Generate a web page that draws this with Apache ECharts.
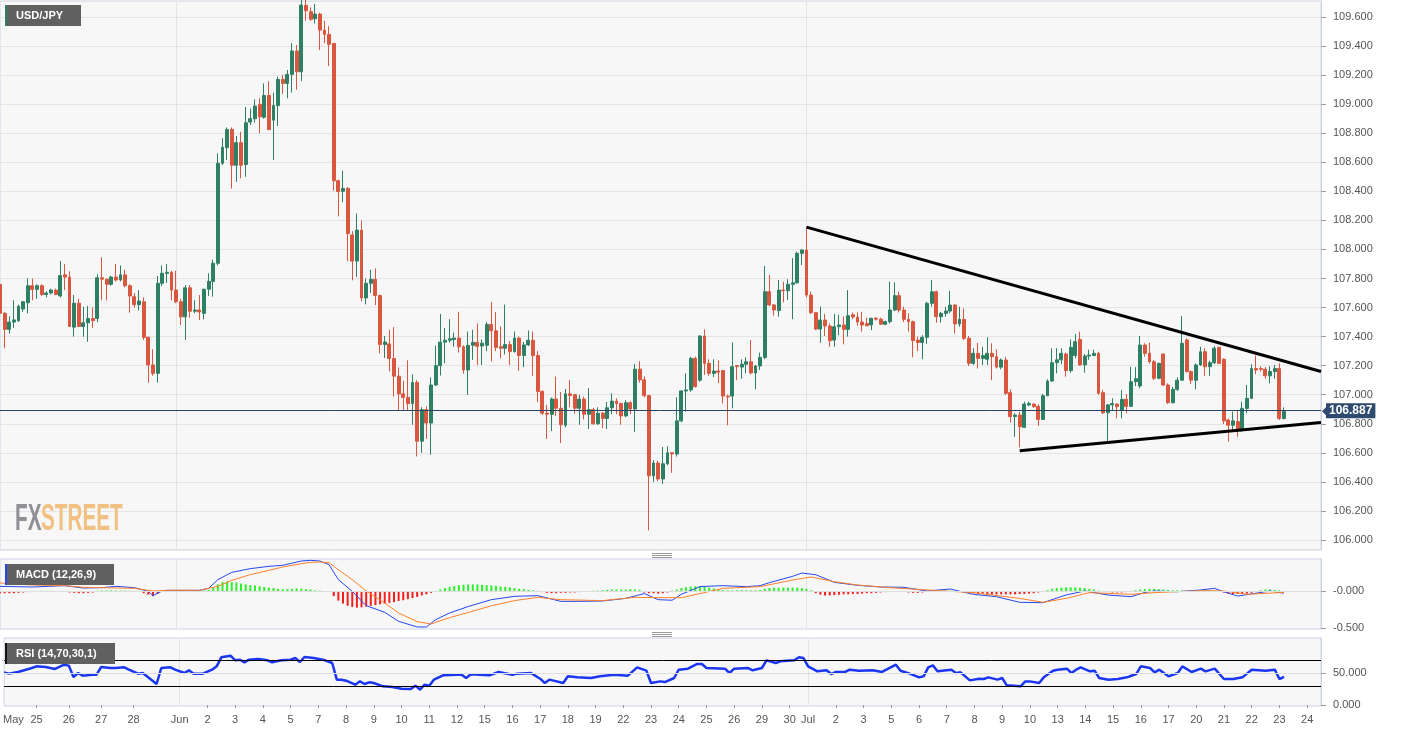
<!DOCTYPE html>
<html><head><meta charset="utf-8">
<script src="https://cdn.jsdelivr.net/npm/echarts@6/dist/echarts.min.js"></script>
<style>html,body{margin:0;padding:0;background:#fff}#c{width:1413px;height:732px}</style>
</head><body><div id="c"></div>
<script>
// 4-hour candles, [open, close, low, high]
const candles = [
[107.76,107.56,107.50,107.80],[107.56,107.45,107.32,107.57],[107.45,107.50,107.42,107.54],[107.50,107.515,107.46,107.65],
[107.51,107.61,107.50,107.62],[107.59,107.64,107.57,107.645],[107.633,107.75,107.56,107.80],[107.75,107.725,107.65,107.80],
[107.725,107.75,107.66,107.76],[107.75,107.69,107.68,107.76],[107.69,107.70,107.67,107.71],[107.70,107.72,107.69,107.73],
[107.72,107.69,107.685,107.73],[107.68,107.82,107.67,107.92],[107.825,107.81,107.72,107.90],[107.81,107.47,107.465,107.85],
[107.465,107.63,107.40,107.686],[107.63,107.47,107.465,107.66],[107.47,107.495,107.40,107.606],[107.495,107.525,107.365,107.61],
[107.525,107.51,107.46,107.60],[107.525,107.805,107.50,107.83],[107.805,107.795,107.65,107.946],[107.795,107.76,107.65,107.80],
[107.76,107.81,107.75,107.82],[107.81,107.79,107.78,107.90],[107.79,107.825,107.78,107.89],[107.825,107.75,107.74,107.86],
[107.75,107.68,107.565,107.76],[107.675,107.62,107.60,107.70],[107.62,107.645,107.58,107.72],[107.64,107.395,107.377,107.67],
[107.395,107.205,107.083,107.40],[107.205,107.147,107.13,107.313],[107.147,107.767,107.083,107.817],[107.767,107.836,107.748,107.89],
[107.835,107.843,107.77,107.90],[107.843,107.72,107.65,107.853],[107.72,107.64,107.63,107.853],[107.64,107.536,107.48,107.66],
[107.536,107.736,107.377,107.755],[107.736,107.575,107.53,107.755],[107.575,107.583,107.56,107.65],[107.583,107.57,107.514,107.686],
[107.56,107.726,107.52,107.73],[107.726,107.78,107.68,107.836],[107.78,107.905,107.675,107.93],[107.905,108.593,107.89,108.662],
[108.593,108.703,108.58,108.765],[108.70,108.826,108.616,108.84],[108.826,108.58,108.42,108.84],[108.58,108.735,108.466,108.78],
[108.735,108.58,108.49,108.81],[108.584,108.872,108.50,108.98],[108.877,108.90,108.856,108.97],[108.90,108.987,108.873,109.033],
[108.999,108.913,108.80,109.04],[108.91,109.06,108.90,109.143],[109.06,108.826,108.82,109.157],[108.89,108.99,108.616,109.08],
[108.99,109.17,108.85,109.19],[109.17,109.143,109.07,109.20],[109.143,109.205,109.04,109.235],[109.205,109.366,109.08,109.42],
[109.366,109.223,109.10,109.407],[109.223,109.682,109.16,109.85],[109.68,109.643,109.575,109.76],[109.636,109.584,109.574,109.666],
[109.588,109.62,109.556,109.69],[109.62,109.51,109.373,109.63],[109.51,109.48,109.42,109.574],[109.48,109.412,109.262,109.538],
[109.418,108.473,108.405,109.42],[108.473,108.398,108.228,108.48],[108.40,108.42,108.325,108.543],[108.42,108.109,107.92,108.43],
[108.10,107.92,107.787,108.126],[107.92,108.133,107.81,108.247],[108.133,107.666,107.642,108.20],[107.666,107.767,107.622,107.80],
[107.767,107.794,107.70,107.86],[107.794,107.683,107.617,107.87],[107.683,107.346,107.285,107.69],[107.346,107.363,107.253,107.404],
[107.35,107.249,107.161,107.447],[107.249,107.128,106.987,107.465],[107.128,107.006,106.895,107.188],[107.006,106.982,106.895,107.096],
[106.982,106.94,106.895,107.237],[106.94,107.084,106.793,107.14],[107.084,106.68,106.575,107.10],[106.68,106.897,106.60,106.914],
[106.897,106.805,106.696,106.92],[106.805,107.067,106.587,107.12],[107.067,107.20,107.06,107.338],[107.20,107.362,107.132,107.556],
[107.362,107.375,107.217,107.46],[107.375,107.385,107.36,107.52],[107.38,107.39,107.33,107.428],[107.39,107.33,107.29,107.57],
[107.33,107.17,107.145,107.34],[107.17,107.34,106.999,107.435],[107.34,107.36,107.24,107.447],[107.36,107.333,107.205,107.49],
[107.335,107.355,107.205,107.38],[107.34,107.484,107.30,107.50],[107.484,107.44,107.23,107.64],[107.44,107.326,107.30,107.57],
[107.33,107.32,107.25,107.47],[107.32,107.345,107.277,107.62],[107.345,107.297,107.205,107.37],[107.297,107.39,107.29,107.435],
[107.39,107.27,107.164,107.40],[107.27,107.343,107.19,107.363],[107.343,107.375,107.335,107.442],[107.375,107.27,107.13,107.435],
[107.27,107.023,106.95,107.30],[107.023,106.873,106.86,107.03],[106.873,106.865,106.696,106.93],[106.865,106.97,106.75,106.982],
[106.97,106.907,106.854,107.125],[106.907,106.793,106.667,107.018],[106.79,107.006,106.775,107.04],[107.006,106.995,106.914,107.10],
[107.0,106.907,106.87,107.005],[106.907,106.97,106.793,107.0],[106.97,106.866,106.83,106.987],[106.866,106.897,106.764,107.045],
[106.897,106.80,106.793,106.91],[106.80,106.873,106.793,106.914],[106.873,106.837,106.769,106.88],[106.837,106.91,106.764,106.95],
[106.91,106.956,106.866,107.01],[106.956,106.94,106.866,106.975],[106.94,106.854,106.793,106.945],[106.854,106.945,106.845,106.963],
[106.945,106.902,106.866,106.955],[106.902,107.176,106.744,107.212],[107.176,107.103,107.084,107.23],[107.103,106.994,106.982,107.125],
[106.994,106.442,106.066,107.0],[106.442,106.53,106.40,106.55],[106.53,106.42,106.405,106.546],[106.42,106.525,106.385,106.64],
[106.525,106.60,106.514,106.645],[106.60,106.592,106.463,106.605],[106.592,106.82,106.574,106.982],[106.82,107.026,106.81,107.03],
[107.026,107.033,106.883,107.147],[107.033,107.25,107.02,107.262],[107.25,107.055,107.05,107.262],[107.10,107.404,107.09,107.41],
[107.404,107.216,107.136,107.45],[107.216,107.147,107.13,107.244],[107.147,107.163,107.12,107.244],[107.163,107.155,107.08,107.235],
[107.166,106.991,106.94,107.17],[106.99,106.985,106.79,107.0],[106.991,107.193,106.906,107.36],[107.20,107.193,107.10,107.205],
[107.19,107.21,107.11,107.244],[107.21,107.227,107.147,107.257],[107.227,107.15,107.14,107.377],[107.15,107.198,107.037,107.205],
[107.198,107.257,107.17,107.29],[107.257,107.709,107.244,107.886],[107.709,107.618,107.61,107.824],[107.618,107.583,107.544,107.625],
[107.58,107.72,107.537,107.79],[107.72,107.716,107.636,107.778],[107.716,107.76,107.652,107.795],[107.76,107.77,107.52,107.94],
[107.77,107.973,107.765,107.985],[107.973,107.996,107.893,108.0],[107.996,107.686,107.67,108.152],[107.686,107.565,107.555,107.71],
[107.565,107.452,107.445,107.57],[107.452,107.514,107.358,107.606],[107.514,107.473,107.404,107.556],[107.473,107.372,107.33,107.49],
[107.376,107.468,107.33,107.556],[107.468,107.48,107.41,107.55],[107.48,107.45,107.347,107.54],[107.45,107.544,107.40,107.72],
[107.55,107.535,107.52,107.567],[107.535,107.50,107.475,107.567],[107.50,107.48,107.434,107.57],[107.49,107.475,107.47,107.53],
[107.48,107.526,107.445,107.53],[107.526,107.52,107.51,107.535],[107.52,107.485,107.48,107.53],[107.485,107.503,107.478,107.51],
[107.503,107.583,107.49,107.778],[107.583,107.682,107.575,107.773],[107.682,107.583,107.567,107.71],[107.583,107.519,107.50,107.606],
[107.519,107.503,107.434,107.56],[107.503,107.372,107.257,107.51],[107.376,107.36,107.30,107.40],[107.36,107.395,107.244,107.41],
[107.395,107.629,107.35,107.64],[107.629,107.709,107.606,107.79],[107.709,107.537,107.496,107.716],[107.537,107.56,107.496,107.57],
[107.56,107.576,107.537,107.606],[107.576,107.617,107.56,107.716],[107.617,107.487,107.423,107.625],[107.487,107.519,107.468,107.606],
[107.519,107.388,107.377,107.594],[107.388,107.216,107.198,107.404],[107.216,107.285,107.205,107.32],[107.285,107.25,107.18,107.356],
[107.25,107.27,107.205,107.33],[107.244,107.285,107.205,107.395],[107.285,107.262,107.10,107.354],[107.262,107.19,107.18,107.312],
[107.19,107.239,107.175,107.25],[107.239,107.01,106.998,107.26],[107.014,106.849,106.808,107.037],[106.849,106.86,106.711,106.872],
[106.86,106.78,106.638,106.883],[106.776,106.936,106.77,106.952],[106.93,106.94,106.92,106.952],[106.936,106.918,106.91,106.94],
[106.92,106.83,106.785,106.936],[106.83,106.993,106.826,107.005],[106.993,107.094,106.99,107.106],[107.094,107.22,107.09,107.32],
[107.22,107.24,107.147,107.32],[107.24,107.285,107.21,107.32],[107.28,107.166,107.124,107.29],[107.166,107.326,107.152,107.38],
[107.27,107.365,107.25,107.418],[107.38,107.205,107.20,107.434],[107.205,107.266,107.152,107.28],[107.266,107.273,107.24,107.31],
[107.27,107.285,107.265,107.31],[107.285,107.01,107.0,107.296],[107.014,106.876,106.867,107.032],[106.876,106.93,106.67,106.936],
[106.93,106.94,106.895,106.975],[106.936,106.918,106.837,106.94],[106.895,106.968,106.837,107.032],[106.968,106.92,106.872,107.005],
[106.92,107.09,106.915,107.193],[107.09,107.11,107.06,107.19],[107.06,107.342,107.044,107.404],[107.342,107.285,107.262,107.354],
[107.285,107.227,107.215,107.358],[107.227,107.113,107.10,107.24],[107.113,107.216,107.107,107.22],[107.28,107.067,107.06,107.285],
[107.067,106.945,106.936,107.078],[106.945,107.037,106.94,107.055],[107.037,107.10,107.026,107.12],[107.10,107.354,107.10,107.542],
[107.377,107.159,107.152,107.388],[107.159,107.10,107.074,107.166],[107.10,107.205,107.037,107.216],[107.205,107.296,107.198,107.33],
[107.296,107.193,107.13,107.32],[107.193,107.22,107.13,107.235],[107.22,107.32,107.21,107.335],[107.326,107.216,107.21,107.33],
[107.244,106.82,106.798,107.25],[106.826,106.79,106.677,106.837],[106.79,106.82,106.757,106.883],[106.815,106.757,106.71,106.895],
[106.757,106.906,106.745,106.952],[106.906,106.975,106.872,107.067],[106.975,107.18,106.97,107.21],[107.18,107.17,107.142,107.27],
[107.18,107.175,107.16,107.196],[107.175,107.13,107.11,107.19],[107.13,107.16,107.078,107.196],[107.16,107.18,107.11,107.205],
[107.18,106.837,106.826,107.216],[106.837,106.887,106.83,106.913]
];

// MACD (12,26,9) main line, read at [candle index, value]
const macdLine = [[0,0.063],[7,0.054],[14,0.072],[18,0.04],[22,0.045],[25,0.063],[29,0.045],[32,-0.005],[33,-0.063],[35,0.0],[36,0.009],[43,0.009],[45,0.036],[47,0.153],[50,0.252],[54,0.302],[58,0.333],[61,0.347],[65,0.405],[67,0.414],[69,0.405],[71,0.356],[73,0.153],[76,-0.005],[79,-0.198],[83,-0.288],[86,-0.41],[90,-0.486],[92,-0.486],[94,-0.387],[97,-0.297],[101,-0.21],[106,-0.117],[111,-0.072],[116,-0.063],[121,-0.14],[125,-0.14],[130,-0.135],[135,-0.1],[139,-0.035],[142,-0.117],[145,-0.125],[147,-0.045],[151,0.06],[156,0.072],[161,0.059],[164,0.072],[166,0.113],[171,0.198],[173,0.243],[176,0.22],[180,0.117],[185,0.077],[190,0.054],[195,0.05],[200,0.0],[205,0.027],[210,-0.045],[215,-0.077],[220,-0.153],[225,-0.158],[230,-0.054],[234,0.0],[239,-0.054],[244,-0.077],[247,-0.02],[249,0.0],[254,-0.01],[259,0.014],[262,0.036],[264,-0.01],[267,-0.068],[270,-0.04],[274,0.0],[277,-0.03]];
// MACD signal line
const signalLine = [[0,0.108],[7,0.081],[14,0.072],[18,0.05],[22,0.045],[29,0.036],[33,0.0],[36,0.009],[43,0.009],[47,0.063],[50,0.144],[54,0.221],[58,0.279],[61,0.324],[65,0.369],[67,0.387],[69,0.392],[71,0.383],[73,0.288],[76,0.153],[79,0.0],[83,-0.162],[86,-0.297],[90,-0.414],[93,-0.446],[94,-0.423],[97,-0.36],[101,-0.29],[106,-0.2],[111,-0.13],[116,-0.086],[121,-0.117],[130,-0.13],[137,-0.086],[143,-0.09],[147,-0.09],[151,-0.035],[156,0.036],[164,0.059],[171,0.148],[175,0.19],[180,0.126],[185,0.081],[192,0.045],[200,0.014],[210,-0.022],[220,-0.1],[225,-0.153],[230,-0.1],[235,-0.022],[244,-0.045],[249,-0.022],[259,0.005],[264,0.0],[269,-0.045],[277,-0.018]];
// MACD histogram, one bar per candle
const histogram = [
-0.03,-0.03,-0.03,-0.03,-0.025,-0.02,-0.015,
-0.005,0,0.003,0.003,0.003,-0.003,-0.005,-0.01,
-0.02,-0.025,-0.03,-0.03,-0.025,-0.02,
0.005,0.008,0.008,0.01,0.008,0.005,0.005,0.003,0.002,0,
-0.03,-0.05,-0.07,-0.04,
-0.01,0.005,0.008,0.01,0.008,0.005,0.003,0.002,0.003,0.008,
0.015,0.04,0.09,0.12,0.13,0.12,0.115,0.1,0.09,0.08,0.075,0.065,0.055,0.045,0.04,0.03,0.025,0.025,0.03,0.035,0.03,0.025,0.02,0.01,0.005,
0,-0.01,
-0.07,-0.13,-0.17,-0.2,-0.215,-0.225,-0.22,-0.21,-0.2,-0.19,-0.18,-0.17,-0.16,-0.15,-0.135,-0.125,-0.11,-0.095,-0.08,-0.06,-0.045,-0.025,0,
0.02,0.04,0.055,0.07,0.08,0.085,
0.09,0.09,0.09,0.085,0.08,0.075,
0.07,0.06,0.055,0.05,0.04,0.03,0.025,0.015,0.01,
0.003,
-0.015,-0.025,-0.03,-0.03,-0.025,-0.025,-0.02,-0.02,-0.015,
-0.005,0,0.003,0.005,
0.01,0.015,0.02,0.02,0.02,0.02,0.025,0.02,0.015,
-0.02,-0.03,-0.03,-0.035,-0.03,-0.02,
0.005,0.02,0.04,0.05,0.06,0.065,
0.06,0.055,0.045,0.035,
0.02,0.015,0.01,0.01,0.01,0.01,0.01,0.008,0.01,0.015,
0.03,0.04,0.045,0.045,0.045,0.045,0.045,0.045,0.04,0.03,
0.01,
-0.03,-0.05,-0.06,-0.06,-0.055,-0.05,-0.045,-0.045,-0.04,-0.04,-0.035,-0.03,-0.03,-0.025,-0.02,-0.015,-0.01,
-0.005,0,-0.01,-0.02,-0.025,-0.025,-0.02,
-0.01,-0.005,0,0.003,0.005,0.003,0,-0.005,
-0.015,-0.025,-0.03,-0.035,-0.04,-0.04,-0.045,-0.045,-0.045,-0.045,-0.045,-0.045,-0.04,-0.04,-0.035,-0.03,-0.02,-0.01,
0.01,0.03,0.04,0.045,0.05,0.05,0.05,0.045,0.04,0.03,0.02,
0.005,-0.01,-0.015,-0.02,-0.02,-0.02,-0.015,-0.01,
0.01,0.02,0.025,0.03,0.03,0.025,0.02,
0.015,0.01,0.01,0.01,0.005,0.005,0.005,0.005,0.01,0.01,0.005,0,
-0.02,-0.035,-0.04,-0.04,-0.04,-0.035,-0.025,
-0.005,0.01,0.02,0.02,0.015,0.01,-0.005
];
// RSI (14) read at [candle index, value]
const rsiLine = [[0,51],[1,49],[3,51.6],[6,57.8],[7,60.4],[9,59.4],[10,57.8],[11,56.3],[13,63],[14,61.5],[15,43.8],[16,50],[17,45.8],[19,47.4],[20,47.4],[21,59.4],[23,57.8],[24,57.8],[26,58.9],[27,55.2],[29,49],[30,50],[33,32.8],[34,57.8],[36,58.9],[37,55.2],[39,50],[40,54.2],[41,49],[43,49],[45,55.2],[46,60.4],[47,74.5],[49,77.1],[50,69.8],[51,70.8],[52,66.7],[53,70.8],[55,71.9],[57,69.8],[58,66.7],[60,69.8],[62,70.8],[63,73.4],[64,67.2],[65,75],[67,73.4],[69,70.8],[71,65.6],[72,39.6],[73,39.6],[74,38],[76,31.8],[77,37],[78,32.8],[79,35.4],[80,34.4],[82,29.2],[84,28.1],[86,25.5],[88,25],[89,30.2],[90,24],[91,31.8],[92,30.2],[93,39.6],[95,46.4],[98,47.4],[99,47.4],[100,42.2],[101,48],[105,46.4],[107,51.6],[110,47.4],[111,49],[114,50],[116,41.1],[117,34.4],[118,39.6],[121,34.4],[122,44.8],[124,43.2],[127,42.2],[129,44.8],[132,47.4],[135,45.8],[137,58.8],[139,53.6],[140,34.4],[142,36.9],[143,35.9],[145,42.2],[146,55.2],[148,56.8],[150,64.1],[151,64.1],[152,57.8],[156,56.8],[157,50],[158,56.8],[161,57.8],[162,54.2],[164,57.8],[165,69.8],[167,65.6],[168,68.2],[171,69.8],[172,74.5],[173,73.4],[174,60.4],[176,52.6],[178,54.2],[179,48.4],[180,51.6],[182,51.6],[183,55.2],[185,53.6],[188,54.2],[190,51.6],[193,63],[194,53.6],[196,49],[198,43.2],[199,44.8],[200,58.8],[201,61.9],[202,52.6],[205,55.2],[206,50],[207,51],[209,38.5],[211,41.1],[212,40.6],[213,43.2],[215,39.6],[216,42.2],[217,30.7],[220,29.2],[221,36.9],[222,36.9],[224,34.4],[225,43.2],[227,53.6],[228,55.2],[230,56.8],[231,50],[232,55.2],[233,58.8],[235,52.6],[236,53.6],[237,42.2],[239,39.6],[241,40.6],[243,43.2],[245,48.4],[246,60.4],[248,57.8],[249,51],[250,55.2],[252,44.8],[254,50],[255,60.4],[257,51.6],[259,56.8],[260,52.6],[262,56.8],[264,40.6],[266,40.6],[268,43.2],[270,55.2],[273,53.6],[275,55.2],[276,40.6],[277,43.8]];

// x-axis tick labels: candle index and text
const tickIdx  = [2,7,14,21,28,38,44,50,56,62,68,74,80,86,92,98,104,110,116,122,128,134,140,146,152,158,164,170,174,180,186,192,198,204,210,216,222,228,234,240,246,252,258,264,270,276,282];
const tickText = ['May','25','26','27','28','Jun','2','3','4','5','7','8','9','10','11','12','15','16','17','18','19','22','23','24','25','26','29','30','Jul','2','3','5','6','7','8','9','10','13','14','15','16','17','20','21','22','23','24'];
const monthIdx = [38, 174];
const lastPrice = 106.887;
// triangle trendlines: [[startIndex, startValue], [endIndex, endValue]]
const trendlines = [[[174,108.154],[285,107.16]], [[220,106.615],[285,106.809]]];
const rsiLevels = [70, 30];
const macdTicks = [-0.5, 0];
const rsiTicks = [0, 50];

const N_CAT = 286;
const categories = Array.from({length: N_CAT}, (_, i) => String(i));
const labelMap = new Map(tickIdx.map((k, i) => [k, tickText[i]]));
const dayTickSet = new Set(tickIdx.filter((k, i) => !['May','Jun','Jul'].includes(tickText[i])));

const FONT = '"Liberation Sans", Arial, sans-serif';
const GRIDLINE = '#e4e4e4';
const BORDER = '#ccd3e6';
const LABEL = '#555';
const PRICE_BG = '#2f4a6f';

function xAx(g, show) {
  return {
    type: 'category', gridIndex: g, data: categories, boundaryGap: false,
    axisLine: {show: false},
    axisTick: {show: show, length: 3, interval: (i) => dayTickSet.has(i), lineStyle: {color: '#999'}},
    axisLabel: {show: show, interval: (i) => labelMap.has(i), formatter: (v, i) => labelMap.get(Number(v)) || '',
      color: LABEL, fontSize: 11, fontFamily: FONT, margin: 8},
    splitLine: {show: true, interval: (i) => monthIdx.includes(i), lineStyle: {color: GRIDLINE}}
  };
}
function yBase(g) {
  return {
    type: 'value', gridIndex: g, position: 'right',
    axisLine: {show: true, lineStyle: {color: BORDER}},
    axisTick: {show: true, length: 5, lineStyle: {color: '#999'}},
    axisLabel: {showMinLabel: false, showMaxLabel: false, color: LABEL, fontSize: 11, fontFamily: FONT, margin: 12},
  };
}

const yMain = yBase(0);
Object.assign(yMain, {min: 105.9312, max: 109.7101, splitNumber: 19, minInterval: 0.2, maxInterval: 0.2,
  splitLine: {show: true, lineStyle: {color: GRIDLINE}}});
yMain.axisLabel.formatter = (v) => v.toFixed(3);

const yMacd = yBase(1);
Object.assign(yMacd, {min: -0.5135, max: 0.4324, splitNumber: 2, minInterval: 0.5, maxInterval: 0.5,
  splitLine: {show: false}});
yMacd.axisLabel.formatter = (v) => (v <= 0 ? '-' : '') + Math.abs(v).toFixed(3);
yMacd.axisLabel.customValues = macdTicks;
yMacd.axisLabel.showMinLabel = true;
yMacd.axisLabel.showMaxLabel = true;
yMacd.axisTick.customValues = macdTicks;

const yRsi = yBase(2);
Object.assign(yRsi, {min: -1.5625, max: 104.69, splitNumber: 2, minInterval: 50, maxInterval: 50,
  splitLine: {show: false}});
yRsi.axisLabel.formatter = (v) => (Math.abs(v - 100) < 1e-6 ? '' : v.toFixed(3));
yRsi.axisLabel.customValues = rsiTicks;
yRsi.axisLabel.showMinLabel = true;
yRsi.axisLabel.showMaxLabel = true;
yRsi.axisTick.customValues = rsiTicks;

function box(x, y, w, h, accent, text) {
  return {type: 'group', z: 50, children: [
    {type: 'rect', z: 50, shape: {x: x, y: y, width: w, height: h}, style: {fill: '#606060'}},
    {type: 'rect', z: 51, shape: {x: x, y: y, width: 2, height: h}, style: {fill: accent}},
    {type: 'text', z: 52, x: x + 11, y: y + h / 2, style: {text: text, fill: '#fff', font: 'bold 11px ' + FONT, verticalAlign: 'middle'}}
  ]};
}
function handle(y) {
  return {type: 'group', z: 50, children: [0, 2, 4].map(d => ({type: 'rect', z: 50, shape: {x: 652, y: y + d, width: 20, height: 1}, style: {fill: '#9a9a9a'}}))};
}

const gridCommon = {show: true, backgroundColor: '#f7f7f7', borderColor: BORDER, borderWidth: 1, containLabel: false};

const option = {
  animation: false,
  backgroundColor: '#ffffff',
  grid: [
    Object.assign({left: 0, top: 1, width: 1321, height: 549}, gridCommon),
    Object.assign({left: 0, top: 559, width: 1321, height: 70}, gridCommon),
    Object.assign({left: 0, top: 638, width: 1321, height: 68}, gridCommon)
  ],
  xAxis: [xAx(0, false), xAx(1, false), xAx(2, true)],
  yAxis: [yMain, yMacd, yRsi],
  graphic: [
    {type: 'group', z: 1, children: [
      {type: 'text', z: 1, x: 15, y: 519.5, scaleX: 0.56, style: {text: 'FX', fill: '#8f9096', font: 'bold 37px ' + FONT, verticalAlign: 'middle'}},
      {type: 'text', z: 1, x: 41, y: 519.5, scaleX: 0.56, style: {text: 'STREET', fill: '#f1c083', font: 'bold 37px ' + FONT, verticalAlign: 'middle'}}
    ]},
    box(5, 5, 76, 21, '#2e8065', 'USD/JPY'),
    box(5, 564, 109, 21, '#2448ee', 'MACD (12,26,9)'),
    box(5, 643, 110, 21, '#111111', 'RSI (14,70,30,1)'),
    handle(553), handle(632)
  ],
  series: [
    {
      type: 'candlestick', xAxisIndex: 0, yAxisIndex: 0, data: candles, barWidth: 3.4, clip: true,
      itemStyle: {color: '#2e8065', color0: '#d9573f', borderColor: '#2e8065', borderColor0: '#d9573f', borderWidth: 1},
      markLine: {
        silent: true, symbol: ['none', 'none'], animation: false,
        data: [
          {yAxis: lastPrice, lineStyle: {color: '#2b4468', width: 1, type: 'solid'},
            label: {show: true, position: 'end', formatter: lastPrice.toFixed(3), color: '#fff', fontWeight: 'bold', fontSize: 12,
              fontFamily: FONT, backgroundColor: PRICE_BG, padding: [2, 3, 1, 3], distance: 5}},
          ...trendlines.map(t => [
            {coord: t[0], lineStyle: {color: '#000', width: 3, type: 'solid'}, label: {show: false}},
            {coord: t[1]}
          ])
        ]
      }
    },
    {
      type: 'bar', xAxisIndex: 1, yAxisIndex: 1, data: histogram, barWidth: 2,
      itemStyle: {color: (p) => p.value >= 0 ? '#2ef02e' : '#f81d1d'},
      markLine: {silent: true, symbol: ['none', 'none'], label: {show: false},
        lineStyle: {color: '#dedede', width: 1, type: 'solid'}, data: [{yAxis: 0}]}
    },
    {type: 'line', xAxisIndex: 1, yAxisIndex: 1, data: macdLine, showSymbol: false, lineStyle: {color: '#2448ee', width: 1}, z: 3},
    {type: 'line', xAxisIndex: 1, yAxisIndex: 1, data: signalLine, showSymbol: false, lineStyle: {color: '#ff7f27', width: 1}, z: 3},
    {
      type: 'line', xAxisIndex: 2, yAxisIndex: 2, data: rsiLine, showSymbol: false, lineStyle: {color: '#1a36f0', width: 2.5}, z: 3,
      markLine: {silent: true, symbol: ['none', 'none'], label: {show: false},
        data: [{yAxis: 50, lineStyle: {color: '#dedede', width: 1, type: 'solid'}}].concat(
          rsiLevels.map(v => ({yAxis: v, lineStyle: {color: '#000', width: 1, type: 'solid'}})))}
    }
  ]
};

const chart = echarts.init(document.getElementById('c'), null, {renderer: 'canvas'});
chart.setOption(option);

// small pointer on the last-price tag, placed through the axis scale
const py = chart.convertToPixel({yAxisIndex: 0}, lastPrice);
const gr = chart.getModel().getComponent('grid', 0).coordinateSystem.getRect();
const gx = gr.x + gr.width;
chart.setOption({graphic: [{type: 'polygon', id: 'ptr', z: 60, shape: {points: [[gx + 1, py], [gx + 6, py - 5], [gx + 6, py + 5]]}, style: {fill: PRICE_BG}}]});
</script>
</body></html>
